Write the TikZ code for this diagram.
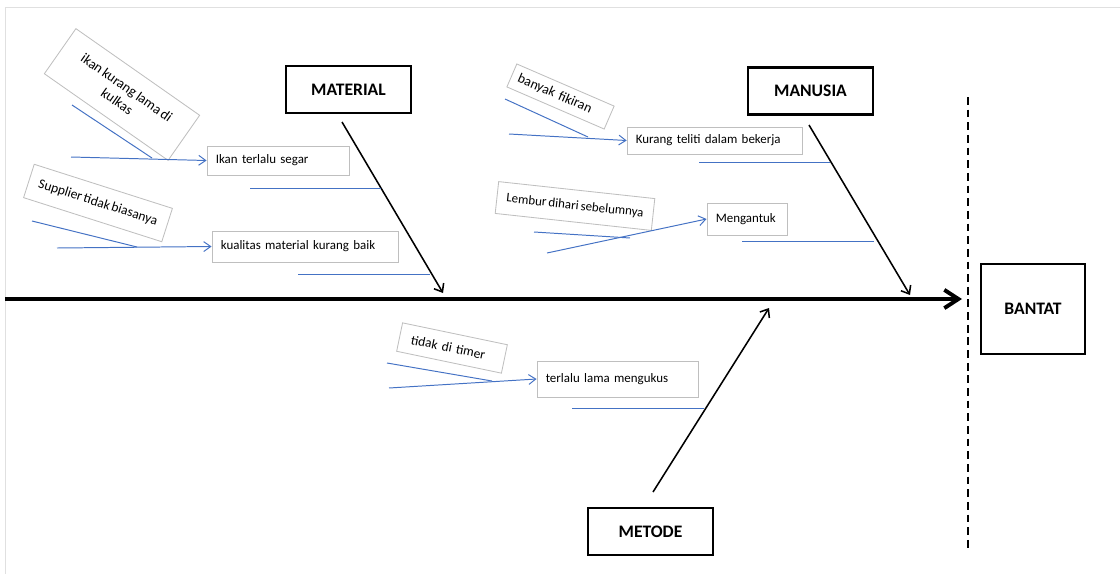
\documentclass[tikz,border=0pt]{standalone}
\usepackage{fontspec}
\setmainfont[WordSpace=0.7]{Carlito}
\usetikzlibrary{arrows.meta, positioning}

\definecolor{twigblue}{RGB}{68,114,196}

\begin{document}
\begin{tikzpicture}[x=0.025cm, y=-0.025cm,
  headbox/.style={draw, rectangle, line width=1.6pt, minimum width=3.125cm, minimum height=1.17cm, font=\fontsize{12.5}{14}\selectfont\bfseries},
  causebox/.style={draw=black!25, rectangle, line width=0.6pt, inner xsep=0.22cm, inner ysep=2pt, align=left, font=\fontsize{9.2}{11}\selectfont},
  tiltbox/.style={draw=black!25, rectangle, line width=0.6pt, inner ysep=2pt, font=\fontsize{9.6}{11.5}\selectfont},
  bone/.style={line width=1.1pt, -{Straight Barb[length=5pt, width=8pt]}},
  twig/.style={draw=twigblue, line width=0.7pt},
  twigarrow/.style={twig, -{Straight Barb[length=5pt, width=7pt]}}]
  \useasboundingbox (0,0) rectangle (1120,574);
  % Sheet frame
  \draw[black!12, line width=0.6pt] (5,574) -- (5,7) -- (1120,7);

  % Spine and effect
  \coordinate (tail) at (5,299);
  \coordinate (head) at (962,299);
  \draw[line width=2.8pt, -{Straight Barb[length=10pt, width=13pt]}] (tail) -- (head);
  \coordinate (dtop) at (968,97);
  \coordinate (dbot) at (968,548);
  \draw[line width=1.6pt, dash pattern=on 5.5pt off 3.5pt] (dtop) -- (dbot);
  \node[headbox, minimum width=2.6cm, minimum height=2.25cm] (bantat) at (1033,309) {BANTAT};

  % Category boxes
  \node[headbox] (material) at (348.5,89.5) {MATERIAL};
  \node[headbox] (manusia) at (810.5,91) {MANUSIA};
  \node[headbox] (metode) at (650.5,531.5) {METODE};

  % Category bones
  \coordinate (matS) at (342,122);
  \coordinate (matE) at (443,293);
  \draw[bone] (matS) -- (matE);
  \coordinate (manS) at (809,125);
  \coordinate (manE) at (910,295);
  \draw[bone] (manS) -- (manE);
  \coordinate (metS) at (653,492);
  \coordinate (metE) at (769,308);
  \draw[bone] (metS) -- (metE);

  % MATERIAL causes
  \node[causebox, text width=3.11cm, minimum height=0.725cm] (segar) at (278,160.5) {Ikan terlalu segar};
  \node[causebox, text width=4.21cm, minimum height=0.775cm] (kualitas) at (305,246.5) {kualitas material kurang baik};
  \node[tiltbox, rotate=-35, minimum width=3.775cm, minimum height=1.375cm, align=center, font=\fontsize{10}{12}\selectfont] (kulkas) at (122,94.5) {ikan kurang lama di\\kulkas};
  \node[tiltbox, rotate=-17.7, minimum width=3.625cm, minimum height=0.875cm] (supplier) at (98,203) {Supplier tidak biasanya};
  \coordinate (m1a) at (72,105);
  \coordinate (m1b) at (152,158);
  \draw[twig] (m1a) -- (m1b);
  \coordinate (m2a) at (71,157);
  \draw[twigarrow] (m2a) -- (segar.west);
  \coordinate (m3a) at (250,188);
  \coordinate (m3b) at (381,188);
  \draw[twig] (m3a) -- (m3b);
  \coordinate (m4a) at (32,221);
  \coordinate (m4b) at (137,247);
  \draw[twig] (m4a) -- (m4b);
  \coordinate (m5a) at (57,248);
  \draw[twigarrow] (m5a) -- (kualitas.west);
  \coordinate (m6a) at (298,274);
  \coordinate (m6b) at (430,274);
  \draw[twig] (m6a) -- (m6b);

  % MANUSIA causes
  \node[causebox, text width=3.93cm, minimum height=0.675cm] (teliti) at (714.5,140.5) {Kurang teliti dalam bekerja};
  \node[causebox, text width=1.56cm, minimum height=0.8cm] (ngantuk) at (747,219) {Mengantuk};
  \node[tiltbox, rotate=-23.4, minimum width=2.65cm, minimum height=0.625cm, inner xsep=0.175cm, text width=2.3cm, align=left, font=\fontsize{9.8}{11.5}\selectfont] (fikiran) at (560.5,96.5) {banyak fikiran};
  \node[tiltbox, rotate=-6.2, minimum width=3.925cm, minimum height=0.8cm, font=\fontsize{9.2}{11}\selectfont] (lembur) at (575,206) {Lembur dihari sebelumnya};
  \coordinate (h1a) at (505,99);
  \coordinate (h1b) at (588,137);
  \draw[twig] (h1a) -- (h1b);
  \coordinate (h2a) at (509,134);
  \draw[twigarrow] (h2a) -- (teliti.west);
  \coordinate (h3a) at (699,162);
  \coordinate (h3b) at (830,162);
  \draw[twig] (h3a) -- (h3b);
  \coordinate (h4a) at (534,232);
  \coordinate (h4b) at (630,238);
  \draw[twig] (h4a) -- (h4b);
  \coordinate (h5a) at (547,253);
  \draw[twigarrow] (h5a) -- (ngantuk.west);
  \coordinate (h6a) at (742,241);
  \coordinate (h6b) at (874,241);
  \draw[twig] (h6a) -- (h6b);

  % METODE causes
  \node[causebox, text width=3.585cm, minimum height=0.9cm] (ukus) at (617.5,379) {terlalu lama mengukus};
  \node[tiltbox, rotate=-11.8, minimum width=2.675cm, minimum height=0.725cm, inner xsep=0.3cm, text width=2.075cm, align=left, font=\fontsize{9.5}{11}\selectfont] (timer) at (452,348) {tidak di timer};
  \coordinate (t1a) at (387,363);
  \coordinate (t1b) at (492,381);
  \draw[twig] (t1a) -- (t1b);
  \coordinate (t2a) at (389,388);
  \draw[twigarrow] (t2a) -- (ukus.west);
  \coordinate (t3a) at (572,408);
  \coordinate (t3b) at (704,408);
  \draw[twig] (t3a) -- (t3b);
\end{tikzpicture}
\end{document}
